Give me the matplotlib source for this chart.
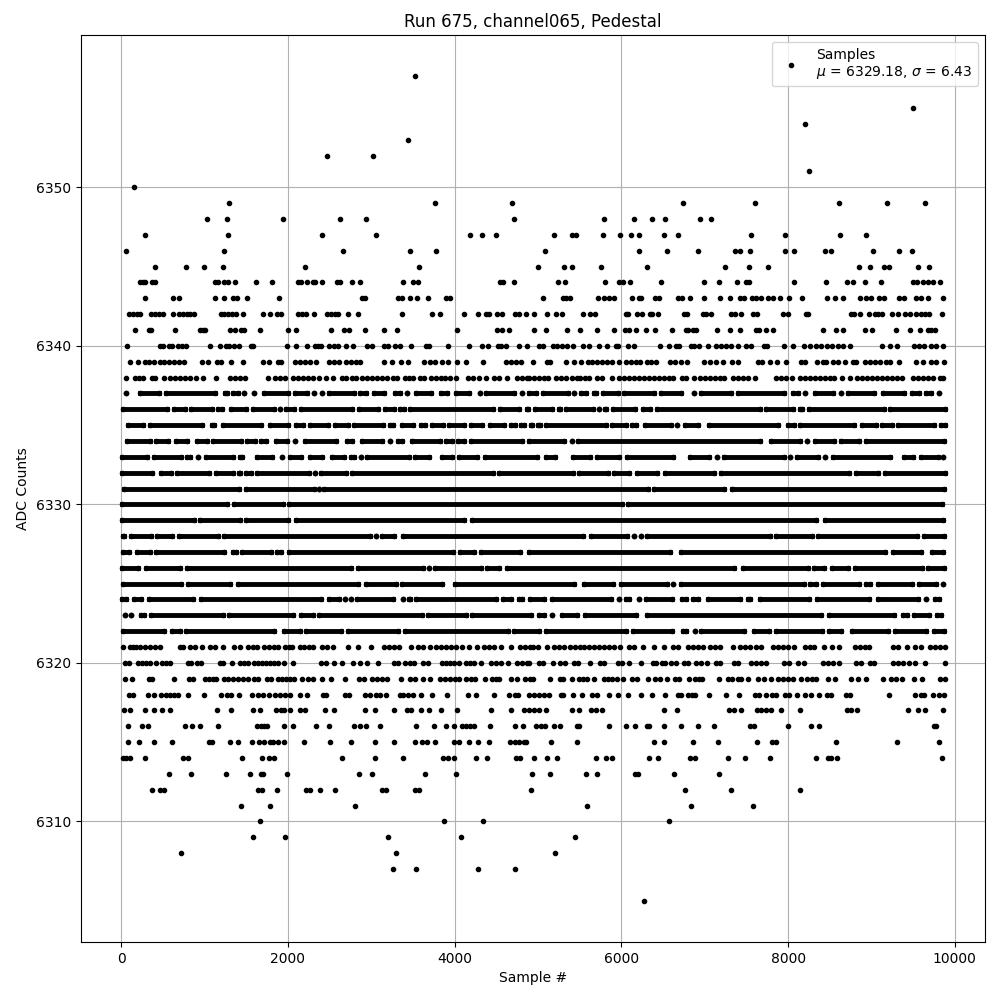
from matplotlib import pyplot as plt

# sparse rows: sample numbers read one by one
s6357 = [3525]
s6355 = [9496]
s6354 = [8200]
s6353 = [3442]
s6352 = [2470, 3022]
s6351 = [8248]
s6350 = [148]
s6349 = [1288, 3760, 4684, 6736, 7600, 8608, 9184, 9640]
s6348 = [1024, 1264, 1936, 2620, 2932, 4708, 5788, 6148, 6364, 6520, 6940, 7072]
s6347 = [280, 1276, 2404, 3052, 4180, 4324, 4492, 5188, 5404, 5452, 5776, 5980, 6112, 6208, 6508, 6676, 7552, 7960, 8620, 8932]
s6346 = [52, 1228, 2656, 3460, 3772, 5080, 6208, 6544, 6916, 7360, 7420, 7540, 7960, 8068, 8440, 8512, 9016, 9328, 9484]
s6345 = [400, 772, 988, 1216, 2200, 3568, 4996, 5308, 5404, 5752, 6304, 7240, 7528, 7756, 8848, 8980, 9148, 9212, 9556, 9688]
s6344 = [220, 256, 284, 368, 404, 1120, 1156, 1228, 1276, 1360, 1612, 1804, 2116, 2152, 2224, 2296, 2328, 2404, 2584, 2620,
         2764, 2860, 3376, 3496, 3556, 4548, 4580, 4708, 5236, 5320, 5800, 5968, 6016, 6100, 6472, 6988, 7168, 7384, 7500, 7528,
         8068, 8452, 8704, 8776, 8920, 9112, 9496, 9548, 9616, 9676, 9736, 9820]
s6343 = [280, 616, 688, 1120, 1236, 1336, 1384, 1504, 1888, 2884, 2920, 3316, 3364, 3460, 3544, 3676, 3892, 3940, 5056, 5296,
         5332, 5380, 5716, 5788, 5848, 5908, 6124, 6208, 6232, 6400, 6448, 6676, 6724, 6828, 6988, 7180, 7300, 7420, 7468, 7564,
         7612, 7672, 7756, 7816, 7900, 8008, 8164, 8464, 8560, 8656, 8860, 8932, 8992, 9088, 9148, 9328, 9388, 9532, 9592, 9676, 9856]
s6342 = [88, 136, 184, 220, 352, 400, 448, 496, 616, 688, 736, 784, 820, 868, 1192, 1228, 1276, 1324, 1372, 1456,
         1696, 1780, 1864, 1912, 2116, 2164, 2212, 2308, 2464, 2512, 2560, 2596, 2716, 2836, 3364, 3724, 3820, 4108, 4276, 4372,
         4408, 4504, 4564, 4720, 4768, 4852, 4948, 5104, 5212, 5284, 5536, 5620, 5680, 6052, 6076, 6184, 6244, 6340, 6364, 6436,
         6748, 6784, 6976, 7012, 7072, 7312, 7360, 7432, 7576, 7624, 7936, 7996, 8212, 8236, 8752, 8788, 8860, 8968, 9040, 9076,
         9124, 9244, 9316, 9400, 9460, 9532, 9592, 9640, 9688, 9844]
s6341 = [160, 328, 352, 640, 940, 976, 1000, 1300, 1360, 1432, 1468, 1660, 1996, 2092, 2512, 2668, 2728, 2920, 3148, 3304,
         4024, 4504, 4564, 4648, 4948, 5092, 5344, 5500, 5704, 5908, 6040, 6088, 6172, 6292, 6400, 6604, 6772, 6796, 6856, 6892,
         7144, 7300, 7420, 7612, 7648, 7732, 7816, 8416, 8572, 8656, 8920, 9004, 9292, 9460, 9580, 9676, 9712, 9760]
s6340 = [64, 460, 496, 568, 604, 676, 724, 772, 1060, 1180, 1252, 1288, 1348, 1408, 1552, 1576, 1984, 2092, 2224, 2320,
         2356, 2392, 2488, 2548, 2596, 2692, 2776, 2944, 3004, 3148, 3196, 3280, 3340, 3472, 3652, 3688, 3916, 4168, 4324, 4396,
         4516, 4552, 4612, 4768, 4864, 5008, 5056, 5176, 5224, 5284, 5344, 5416, 5536, 5608, 5728, 5824, 5932, 5956, 6076, 6148,
         6460, 6568, 6652, 6688, 6832, 6868, 6928, 7036, 7132, 7192, 7252, 7312, 7396, 7492, 7552, 7708, 7744, 7948, 8056, 8188,
         8260, 8332, 8392, 8464, 8524, 8596, 8656, 8740, 9124, 9220, 9304, 9508, 9568, 9628, 9712, 9772, 9856]
s6339 = [100, 196, 280, 328, 388, 460, 508, 568, 628, 688, 748, 964, 1036, 1144, 1192, 1312, 1456, 1696, 1768, 1876,
         1912, 2080, 2140, 2200, 2260, 2332, 2488, 2548, 2608, 2692, 2752, 2812, 2860, 3148, 3244, 3352, 3436, 3628, 3700, 3760,
         3844, 3916, 4024, 4132, 4336, 4612, 4672, 4732, 4792, 4936, 5104, 5140, 5332, 5428, 5512, 5596, 5644, 5704, 5764, 5824,
         5884, 5968, 6052, 6112, 6172, 6220, 6304, 6352, 6412, 6580, 6640, 6712, 6784, 6988, 7060, 7132, 7216, 7324, 7396, 7636,
         7684, 7780, 7864, 7972, 8152, 8200, 8344, 8416, 8460, 8536, 8596, 8680, 8776, 8812, 8920, 8980, 9040, 9100, 9172, 9220,
         9328, 9532, 9616, 9712, 9772, 9868]
s6338 = [52, 160, 208, 256, 364, 400, 508, 580, 640, 700, 760, 820, 892, 976, 1132, 1300, 1360, 1420, 1480, 1756,
         1840, 1900, 1960, 2056, 2116, 2176, 2236, 2296, 2368, 2452, 2536, 2644, 2692, 2764, 2812, 2884, 2944, 3004, 3064, 3124,
         3184, 3256, 3304, 3400, 3448, 3496, 3580, 3628, 3712, 3772, 3832, 3880, 3940, 4012, 4156, 4216, 4288, 4372, 4468, 4528,
         4624, 4744, 4804, 4864, 4888, 4948, 5008, 5068, 5116, 5212, 5272, 5332, 5404, 5464, 5500, 5560, 5608, 5704, 5764, 5884,
         5968, 6028, 6088, 6148, 6208, 6268, 6328, 6388, 6448, 6508, 6568, 6616, 6724, 6772, 6868, 6940, 7000, 7060, 7120, 7180,
         7228, 7336, 7396, 7456, 7516, 7600, 7852, 7912, 7972, 8044, 8140, 8200, 8260, 8320, 8380, 8440, 8500, 8548, 8644, 8740,
         8824, 8884, 8944, 9004, 9064, 9124, 9184, 9244, 9304, 9364, 9496, 9556, 9616, 9676, 9736, 9820, 9856]
s6321 = [16, 100, 136, 172, 220, 288, 348, 408, 460, 708, 744, 828, 880, 972, 1068, 1120, 1216, 1348, 1428, 1516,
         1576, 1628, 1708, 1768, 1828, 1876, 1960, 2008, 2044, 2140, 2196, 2248, 2296, 2404, 2464, 2536, 2716, 2836, 2992, 3148,
         3208, 3268, 3328, 3472, 3556, 3616, 3700, 3772, 3832, 3892, 3952, 4012, 4084, 4168, 4264, 4348, 4408, 4468, 4552, 4672,
         4780, 4840, 4900, 4936, 4996, 5104, 5188, 5248, 5308, 5380, 5440, 5500, 5548, 5608, 5668, 5728, 5788, 5848, 5908, 5980,
         6088, 6148, 6256, 6388, 6508, 6616, 6676, 6796, 6856, 6916, 6976, 7060, 7120, 7180, 7336, 7420, 7480, 7540, 7612, 7672,
         7816, 7876, 7936, 7996, 8068, 8200, 8260, 8308, 8428, 8524, 8608, 8800, 8860, 8920, 8968, 9256, 9316, 9424, 9520, 9592,
         9700, 9760, 9820, 9880]
s6320 = [40, 88, 196, 244, 292, 340, 412, 484, 532, 580, 796, 832, 904, 952, 1180, 1216, 1324, 1420, 1468, 1516,
         1588, 1636, 1684, 1732, 1780, 1828, 1876, 1948, 2056, 2392, 2452, 2548, 2644, 2776, 2860, 2944, 3076, 3268, 3316, 3400,
         3460, 3508, 3616, 3676, 3844, 3892, 3940, 3988, 4048, 4132, 4180, 4228, 4312, 4432, 4492, 4552, 4636, 4744, 4804, 4864,
         4888, 5008, 5056, 5176, 5260, 5320, 5428, 5476, 5620, 5740, 5788, 5956, 6004, 6088, 6232, 6376, 6412, 6484, 6520, 6592,
         6652, 6748, 6796, 6892, 6952, 7024, 7132, 7180, 7348, 7396, 7552, 7612, 7672, 7732, 7948, 8008, 8116, 8188, 8416, 8476,
         8536, 8608, 8812, 8872, 8980, 9028, 9256, 9316, 9376, 9448, 9520, 9640, 9880]
s6319 = [40, 124, 328, 364, 636, 808, 860, 1000, 1048, 1096, 1132, 1228, 1276, 1336, 1396, 1456, 1516, 1588, 1636, 1744,
         1792, 1876, 1924, 1972, 2020, 2068, 2164, 2236, 2296, 2404, 2512, 2680, 2848, 2908, 3004, 3064, 3124, 3184, 3352, 3460,
         3520, 3616, 3700, 3820, 3880, 3940, 4000, 4048, 4132, 4192, 4240, 4360, 4444, 4492, 4528, 4672, 4744, 4840, 4900, 4936,
         5148, 5260, 5296, 5404, 5488, 5536, 5584, 5668, 5788, 5836, 5884, 5944, 6016, 6124, 6184, 6316, 6400, 6460, 6544, 6640,
         6688, 6808, 6880, 6928, 6964, 7168, 7276, 7324, 7396, 7432, 7524, 7636, 7708, 7792, 7876, 7936, 7996, 8056, 8152, 8224,
         8284, 8332, 8476, 8560, 8752, 8836, 8932, 9136, 9232, 9292, 9364, 9508, 9604, 9820, 9880]
s6318 = [88, 136, 316, 388, 472, 532, 580, 628, 676, 796, 988, 1192, 1264, 1312, 1408, 1564, 1636, 1696, 1768, 1840,
         1900, 1960, 2020, 2140, 2224, 2416, 2452, 2680, 2728, 2920, 2980, 3052, 3100, 3172, 3340, 3376, 3436, 3496, 3592, 3724,
         3904, 4156, 4252, 4468, 4648, 4720, 4756, 4888, 4948, 5008, 5068, 5128, 5272, 5296, 5416, 5524, 5644, 5704, 5848, 5956,
         6076, 6232, 6364, 6520, 6676, 6712, 6796, 6844, 6880, 7048, 7252, 7408, 7600, 7648, 7732, 7804, 7852, 7960, 8008, 8104,
         8200, 8272, 8368, 8464, 8512, 8692, 8740, 9208, 9520, 9592, 9628, 9736, 9808, 9868]
s6317 = [28, 100, 280, 388, 484, 580, 1144, 1312, 1576, 1660, 1852, 1912, 1948, 2020, 2140, 2200, 2440, 2548, 2920, 3040,
         3268, 3424, 3472, 3592, 3688, 3832, 4024, 4432, 4672, 4828, 4888, 4948, 5008, 5092, 5404, 5488, 5632, 5692, 5764, 6508,
         6664, 7288, 7348, 7432, 7624, 7672, 7732, 7792, 7912, 8140, 8704, 8752, 8824, 9436, 9556, 9640, 9856]
s6316 = [76, 244, 316, 760, 844, 940, 1156, 1624, 1672, 1708, 1744, 1948, 2056, 2332, 2488, 2788, 2860, 2932, 3100, 3532,
         3748, 3892, 3988, 4084, 4132, 4180, 4228, 4420, 4720, 4816, 4972, 5032, 5080, 5188, 5260, 5464, 5488, 5848, 6052, 6160,
         6304, 6328, 6508, 6712, 6916, 7108, 7540, 7588, 7996, 8272, 8368, 9748, 9772]
s6315 = [76, 208, 388, 604, 1048, 1084, 1300, 1396, 1564, 1648, 1708, 1780, 1816, 1876, 1948, 2188, 2500, 2752, 3040, 3268,
         3520, 3604, 3664, 3760, 3988, 4048, 4168, 4276, 4408, 4660, 4720, 4768, 4828, 4852, 5152, 5464, 6388, 6508, 6856, 7156,
         7624, 7804, 7852, 8572, 9304, 9808]
s6314 = [16, 52, 100, 280, 736, 796, 1444, 1684, 1768, 1828, 2644, 3040, 3376, 3856, 3916, 3988, 4252, 4384, 4732, 4780,
         4948, 5104, 5224, 5692, 5812, 5884, 6328, 6436, 6820, 6880, 7276, 7480, 7780, 8332, 8476, 8512, 8584, 9844]
s6313 = [568, 832, 1252, 1540, 1672, 1696, 1984, 2848, 3004, 3640, 4012, 4924, 5140, 5572, 5704, 6160, 6196, 6628, 7168]
s6312 = [364, 460, 508, 1636, 1684, 1864, 2212, 2260, 2380, 2560, 3124, 3172, 3520, 3568, 4912, 6760, 7312, 8140]
s6311 = [1432, 1780, 2800, 5584, 6832, 7576]
s6310 = [1660, 3868, 4336, 6568]
s6309 = [1576, 1960, 3196, 4072, 5440]
s6308 = [712, 3292, 5200]
s6307 = [3256, 3532, 4276, 4720]
s6305 = [6270]

sparse_rows = {6357: s6357, 6355: s6355, 6354: s6354, 6353: s6353, 6352: s6352, 6351: s6351, 6350: s6350,
               6349: s6349, 6348: s6348, 6347: s6347, 6346: s6346, 6345: s6345, 6344: s6344, 6343: s6343,
               6342: s6342, 6341: s6341, 6340: s6340, 6339: s6339, 6338: s6338, 6321: s6321, 6320: s6320,
               6319: s6319, 6318: s6318, 6317: s6317, 6316: s6316, 6315: s6315, 6314: s6314, 6313: s6313,
               6312: s6312, 6311: s6311, 6310: s6310, 6309: s6309, 6308: s6308, 6307: s6307, 6305: s6305}

# dense rows: the dots merge into bars in the picture, so single samples cannot be read.
# what is stored is the (first, last) sample of each solid stretch, drawn as one thick segment
r6337 = [(52, 52), (220, 448), (540, 1124), (1244, 1268), (1340, 1396), (1468, 1468), (1588, 1588), (1712, 2004), (2080, 2228), (2308, 2308),
         (2404, 2404), (2492, 2788), (2864, 2940), (3032, 3148), (3284, 3340), (3432, 3432), (3532, 3716), (3836, 3904), (4016, 4176), (4300, 4300),
         (4376, 4716), (4804, 4804), (4892, 4976), (5060, 5356), (5432, 5432), (5516, 5572), (5676, 5692), (5780, 5956), (6032, 6388), (6476, 6716),
         (6870, 6870), (6956, 7316), (7404, 7956), (8060, 8116), (8200, 8200), (8324, 8536), (8632, 8632), (8720, 9028), (9140, 9388), (9488, 9568),
         (9656, 9716), (9816, 9816)]
r6336 = [(20, 548), (636, 764), (840, 1084), (1160, 1204), (1316, 1492), (1580, 1828), (1904, 1904), (1976, 2076), (2156, 2764), (2856, 3084),
         (3164, 3268), (3348, 3388), (3464, 4460), (4540, 4776), (4872, 4876), (4964, 5164), (5252, 5260), (5336, 5656), (5730, 5730), (5804, 5812),
         (5900, 6164), (6260, 6348), (6428, 7660), (7740, 8056), (8148, 8164), (8252, 9148), (9228, 9884)]
r6335 = [(80, 256), (344, 964), (1088, 1108), (1220, 1676), (1784, 1996), (2096, 2176), (2260, 2476), (2564, 2716), (2792, 3140), (3224, 3256),
         (3368, 3496), (3600, 3640), (3728, 3856), (3932, 4116), (4200, 4324), (4424, 4588), (4676, 4724), (4800, 4836), (4920, 4924), (5000, 5020),
         (5100, 5812), (5892, 6056), (6132, 6172), (6284, 6596), (6672, 6672), (6764, 6916), (7052, 7876), (8000, 8068), (8144, 8788), (8888, 9052),
         (9132, 9244), (9324, 9756), (9836, 9884)]
r6334 = [(68, 340), (416, 556), (656, 784), (908, 1024), (1100, 1436), (1512, 1604), (1680, 1736), (1856, 1984), (2084, 2084), (2204, 2572),
         (2708, 2764), (2888, 3124), (3220, 3220), (3320, 3364), (3488, 3824), (3900, 3964), (4044, 4116), (4196, 4808), (4892, 5308), (5404, 5404),
         (5480, 7660), (7796, 8140), (8224, 8224), (8324, 8548), (8636, 8852), (8932, 9876)]
r6333 = [(8, 304), (392, 716), (788, 820), (924, 924), (1016, 1336), (1424, 1448), (1628, 1804), (1928, 1928), (2024, 2152), (2264, 2404),
         (2528, 2668), (2756, 2792), (2876, 2876), (2952, 3448), (3528, 3688), (3848, 3964), (4052, 4268), (4364, 4984), (5100, 5200), (5420, 5620),
         (5708, 5968), (6068, 6616), (6820, 7052), (7148, 7148), (7232, 7956), (8028, 8028), (8108, 8356), (8444, 8444), (8540, 9228), (9396, 9500),
         (9596, 9796), (9864, 9864)]
r6332 = [(8, 364), (476, 596), (668, 1048), (1132, 1340), (1412, 1420), (1500, 1556), (1628, 2252), (2324, 2324), (2400, 2692), (2768, 4456),
         (4536, 5416), (5496, 5836), (5912, 6088), (6188, 6424), (6524, 7116), (7196, 8736), (8816, 9076), (9168, 9884)]
r6331 = [(28, 1416), (1496, 2308), (2372, 2372), (2432, 6316), (6396, 7236), (7328, 9876)]
r6330 = [(8, 1264), (1352, 1936), (2012, 6004), (6080, 9844)]
r6329 = [(8, 868), (944, 1420), (1500, 1996), (2096, 4108), (4208, 8336), (8440, 9860)]
r6328 = [(20, 28), (120, 356), (428, 612), (692, 1156), (1236, 2988), (3056, 3056), (3132, 3268), (3380, 5536), (5632, 6068), (6148, 6148),
         (6232, 6232), (6308, 7780), (7860, 8284), (8360, 9548), (9636, 9876)]
r6327 = [(20, 88), (188, 348), (420, 1236), (1340, 1376), (1452, 1796), (1868, 1916), (2012, 3976), (4068, 4228), (4316, 4784), (4892, 6580),
         (6716, 9164), (9260, 9596), (9724, 9860)]
r6326 = [(8, 204), (300, 700), (788, 2756), (2840, 3620), (3688, 3688), (3764, 4316), (4388, 4536), (4628, 7356), (7460, 8236), (8316, 8436),
         (8524, 8724), (8804, 9604), (9684, 9876)]
r6325 = [(20, 716), (800, 1308), (1400, 2836), (2936, 3292), (3368, 3844), (4004, 5428), (5552, 5900), (5996, 6548), (6624, 6624), (6716, 8188),
         (8268, 8336), (8420, 8856), (8932, 8988), (9076, 9484), (9572, 9776), (9864, 9864)]
r6324 = [(8, 56), (152, 232), (332, 856), (956, 2396), (2492, 2616), (2688, 2688), (2756, 2756), (2828, 3256), (3376, 3376), (3452, 3460),
         (3540, 4496), (4580, 4676), (4772, 4808), (4904, 5076), (5168, 5876), (5968, 5968), (6060, 6092), (6208, 6208), (6300, 6604), (6732, 6776),
         (6860, 6916), (7040, 7420), (7520, 7540), (7664, 8256), (8348, 8972), (9076, 9556), (9652, 9652), (9764, 9808)]
r6323 = [(40, 40), (116, 116), (236, 268), (356, 1216), (1292, 2056), (2156, 2296), (2372, 3604), (3680, 4132), (4208, 4916), (5012, 5068),
         (5164, 5164), (5288, 5464), (5564, 6180), (6308, 8396), (8492, 9268), (9380, 9428), (9516, 9696), (9788, 9836)]
r6322 = [(20, 516), (608, 700), (776, 1836), (1952, 2140), (2216, 2636), (2720, 3316), (3404, 4636), (4708, 5008), (5096, 6056), (6140, 6608),
         (6740, 6780), (6880, 6880), (6956, 7468), (7592, 7768), (7856, 8404), (8492, 8636), (8768, 9196), (9284, 9660), (9756, 9876)]

dense_rows = {6337: r6337, 6336: r6336, 6335: r6335, 6334: r6334, 6333: r6333, 6332: r6332, 6331: r6331, 6330: r6330,
              6329: r6329, 6328: r6328, 6327: r6327, 6326: r6326, 6325: r6325, 6324: r6324, 6323: r6323, 6322: r6322}

title = 'Run 675, channel065, Pedestal'
label = 'Samples\n$\\mu$ = 6329.18, $\\sigma$ = 6.43'

fig, ax = plt.subplots(figsize=(10, 10), dpi=100)

xs = []
ys = []
for level, samples in sparse_rows.items():
    xs += samples
    ys += [level] * len(samples)
ax.plot(xs, ys, 'k.', label=label)

for level, runs in dense_rows.items():
    for first, last in runs:
        ax.plot([first, last], [level, level], 'k.-', lw=3.5)

ax.set_xlim(-482, 10362)
ax.grid(True)
ax.set_title(title)
ax.set_xlabel('Sample #')
ax.set_ylabel('ADC Counts')
ax.legend(loc='upper right')
fig.subplots_adjust(left=0.081, right=0.985, top=0.965, bottom=0.058)
fig.savefig('out.png')
